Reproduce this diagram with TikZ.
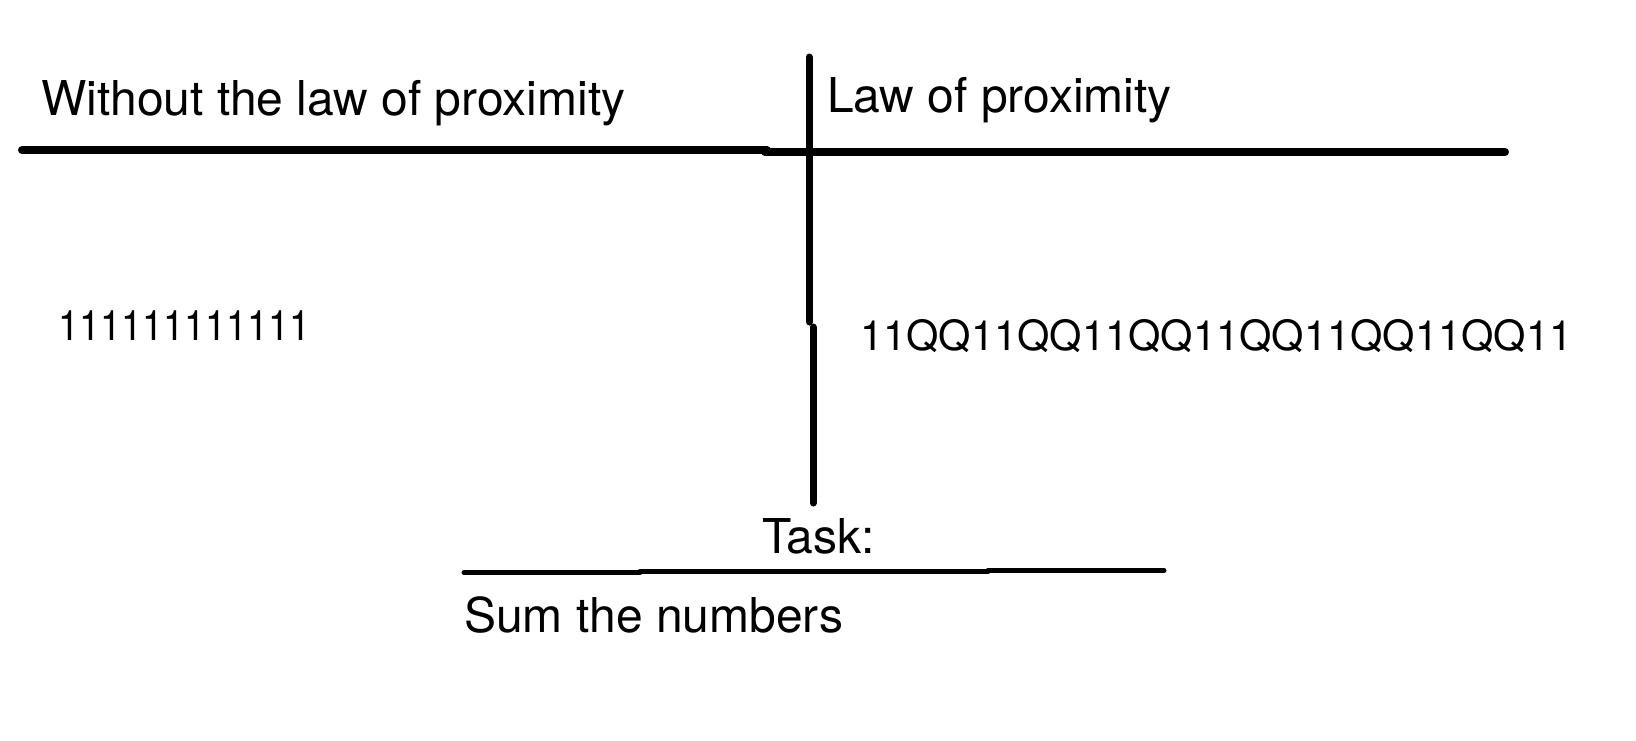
\documentclass[tikz,border=0pt]{standalone}
\usepackage{fontspec}
\setmainfont{TeX Gyre Heros}
\begin{document}
\begin{tikzpicture}[x=1pt,y=-1pt,
  heading/.style={anchor=base west,inner sep=0pt,font=\fontsize{48}{56}\selectfont},
  seq/.style={anchor=base west,inner sep=0pt,font=\fontsize{41.6}{50}\selectfont},
  rule/.style={line width=8pt,line cap=round},
  vrule/.style={line width=7pt,line cap=round},
  thinrule/.style={line width=5pt,line cap=round}]
\useasboundingbox (0,0) rectangle (1636,740);
% header texts
\node[heading] (without) at (41,115) {Without the law of proximity};
\node[heading] (law) at (827,112) {Law of proximity};
% header rules
\coordinate (hl1) at (22,150); \coordinate (hl2) at (767,150);
\coordinate (hr1) at (765,152); \coordinate (hr2) at (1505,152);
\draw[rule] (hl1) -- (hl2);
\draw[rule] (hr1) -- (hr2);
% vertical divider
\coordinate (v1) at (809,57); \coordinate (v2) at (809,322);
\coordinate (v3) at (813,327); \coordinate (v4) at (813,503);
\draw[vrule] (v1) -- (v2);
\draw[vrule] (v3) -- (v4);
% sequences
\node[seq,font=\fontsize{42}{50}\selectfont] (ones) at (58,340) {\scalebox{0.9}[1]{111111111111}};
\node[seq] (grouped) at (860,350) {11QQ11QQ11QQ11QQ11QQ11QQ11};
% task
\node[heading] (task) at (762,553) {Task:};
\coordinate (b1) at (464,572.5); \coordinate (b2) at (640,572.5);
\coordinate (b3) at (640,571.5); \coordinate (b4) at (988,571.5);
\coordinate (b5) at (988,570.5); \coordinate (b6) at (1164,570.5);
\draw[thinrule] (b1) -- (b2);
\draw[thinrule] (b3) -- (b4);
\draw[thinrule] (b5) -- (b6);
\node[heading] (sum) at (464,632) {Sum the numbers};
\end{tikzpicture}
\end{document}
